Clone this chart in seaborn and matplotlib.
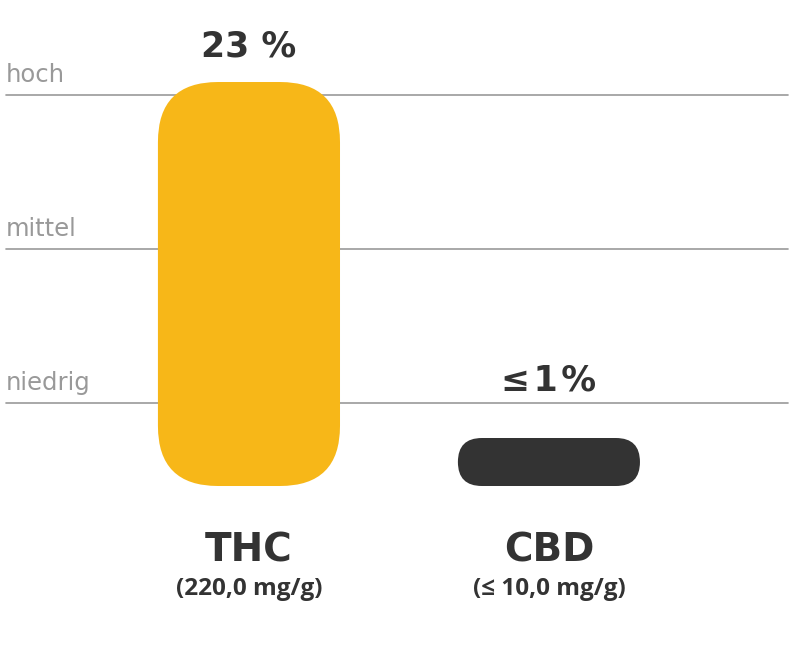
import matplotlib
matplotlib.use("Agg")
import matplotlib.pyplot as plt
import seaborn as sns
from matplotlib.patches import FancyBboxPatch

# data
categories = ["THC", "CBD"]
values = [23, 1]
value_labels = ["23 %", "≤\u200a1\u200a%"]
sub_labels = ["(220,0 mg/g)", "(≤ 10,0 mg/g)"]
level_names = ["hoch", "mittel", "niedrig"]
level_values = [22.26, 13.49, 4.73]

# styles
colors = ["#F7B718", "#333333"]
label_offsets = [36, 58]   # px above bar top
W, H = 794, 660

sns.set_theme(style="white")
plt.rcParams["font.family"] = ["DejaVu Sans"]

fig = plt.figure(figsize=(W / 100, H / 100), dpi=100)
ax = fig.add_axes([0, 0, 1, 1])
sns.barplot(x=categories, y=values, hue=categories, palette=colors,
            width=0.607, saturation=1, legend=False, ax=ax)

ax.set_xlim(-0.83, 1.817)
ax.set_ylim(-9.906, 27.669)
px_x = W / (1.817 + 0.83)        # px per x unit
px_y = H / (27.669 + 9.906)      # px per y unit
aspect = px_x / px_y

# swap the flat bars for rounded ones
for p in list(ax.patches):
    x0, w, h = p.get_x(), p.get_width(), p.get_height()
    fc = p.get_facecolor()
    p.remove()
    h_draw = max(h, 48 / px_y)
    r_px = min(60, h_draw * px_y / 2)
    ax.add_patch(FancyBboxPatch((x0, 0), w, h_draw,
                                boxstyle=f"round,pad=0,rounding_size={r_px / px_x}",
                                mutation_aspect=aspect, fc=fc, ec="none", zorder=2))

# level lines
for name, lv in zip(level_names, level_values):
    ax.axhline(lv, xmin=6 / W, xmax=788 / W, color="#999999", lw=1.2, zorder=1)
    ax.annotate(name, xy=(6 / W, lv), xycoords=("axes fraction", "data"),
                xytext=(0, 13), textcoords="offset pixels", ha="left", va="baseline",
                fontsize=17.5, color="#999999")

for i, (cat, v, vl, sl) in enumerate(zip(categories, values, value_labels, sub_labels)):
    top = max(v, 48 / px_y)
    ax.annotate(vl, xy=(i, top), xytext=(0, label_offsets[i]), textcoords="offset pixels",
                ha="center", va="center", fontsize=25, fontweight="bold", color="#333333")
    ax.annotate(cat, xy=(i, 0), xytext=(0, -64), textcoords="offset pixels",
                ha="center", va="center", fontsize=28, fontweight="bold", color="#333333")
    ax.annotate(sl, xy=(i, 0), xytext=(0, -103), textcoords="offset pixels",
                ha="center", va="center", fontsize=17.5, fontweight="bold",
                color="#333333", family="Open Sans")

ax.set_xticks([])
ax.set_yticks([])
for s in ax.spines.values():
    s.set_visible(False)

fig.savefig("out.png", dpi=100)
